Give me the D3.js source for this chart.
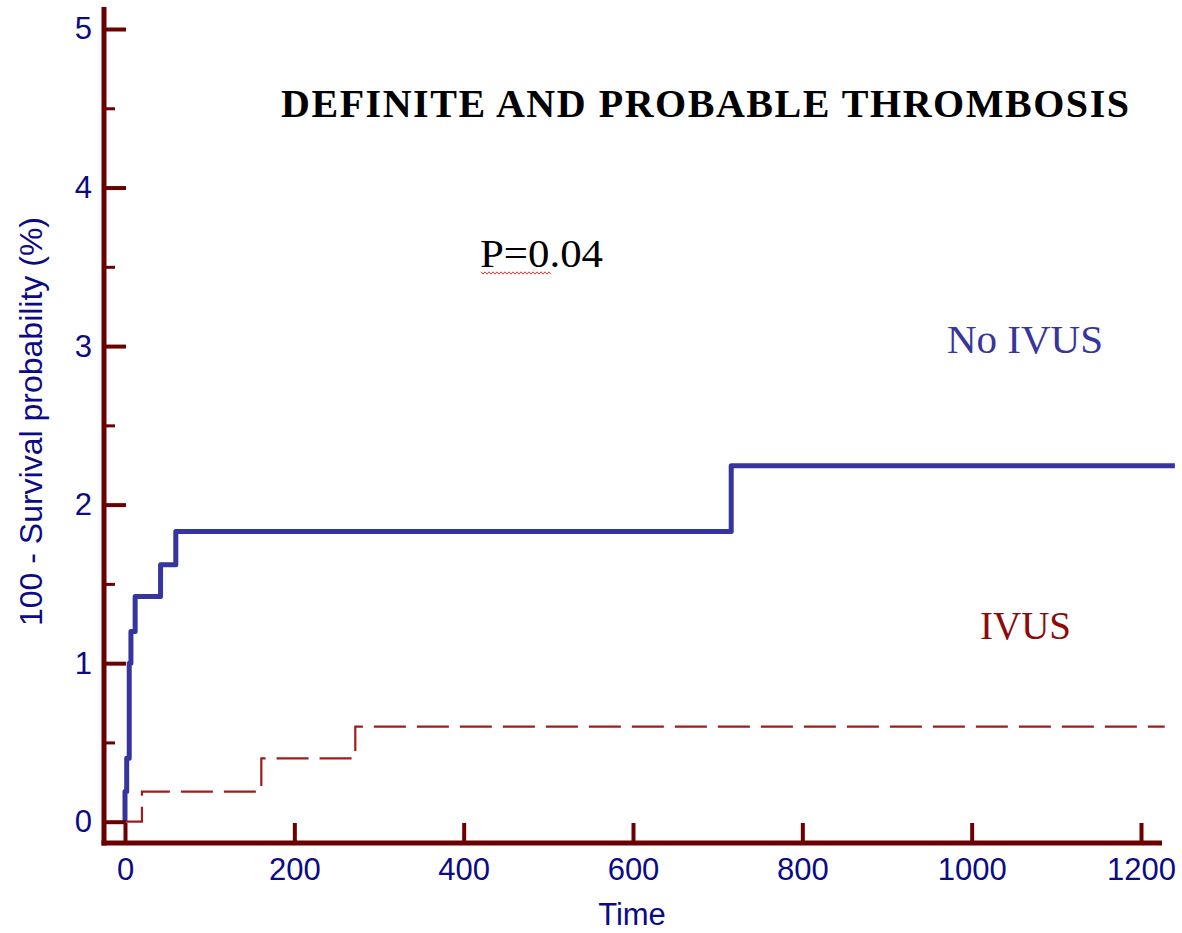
<!DOCTYPE html>
<html>
<head>
<meta charset="utf-8">
<script src="https://cdn.jsdelivr.net/npm/d3@7/dist/d3.min.js"></script>
<style>
  html, body { margin: 0; padding: 0; background: #ffffff; }
  svg { display: block; }
</style>
</head>
<body>
<script>
// Kaplan-Meier style cumulative event curves (100 - survival probability, %)
const noIvusTimes  = [0, 0, 2, 5, 7, 12, 42, 60, 716, 1240];
const noIvusValues = [0, 0.19, 0.40, 1.0, 1.20, 1.42, 1.62, 1.83, 2.245, 2.245];

const ivusTimes  = [0, 20, 161, 272, 1228];
const ivusValues = [0, 0.19, 0.40, 0.60, 0.60];

const xTicks = [0, 200, 400, 600, 800, 1000, 1200];
const yTicks = [0, 1, 2, 3, 4, 5];
const yMinorTicks = [0.5, 1.5, 2.5, 3.5, 4.5];

const titleText = "DEFINITE AND PROBABLE THROMBOSIS";
const pValueText = "P=0.04";
const seriesLabels = ["No IVUS", "IVUS"];
const xTitle = "Time";
const yTitle = "100 - Survival probability (%)";

const W = 1182, H = 933;
const axisColor = "#6b0000";
const labelColor = "#0b0b85";
const blueColor = "#35359d";
const redColor = "#a01c1c";

const svg = d3.select("body").append("svg").attr("width", W).attr("height", H);

const x = d3.scaleLinear().domain([0, 1200]).range([125, 1141]);
const y = d3.scaleLinear().domain([0, 5]).range([821.7, 29]);

// axis extents (slightly beyond the plotted domain on each side)
const xMin = x.invert(104), xMax = x.invert(1162);
const yMin = y.invert(843), yMax = y.invert(7);

// curves
const toPoints = (ts, vs) => ts.map((t, i) => [t, vs[i]]);
const stepLine = d3.line().x(d => x(d[0])).y(d => y(d[1])).curve(d3.curveStepAfter);

svg.append("path")
  .attr("d", stepLine(toPoints(ivusTimes, ivusValues)))
  .attr("fill", "none")
  .attr("stroke", redColor)
  .attr("stroke-width", 2.2)
  .attr("stroke-dasharray", "32,11");

svg.append("path")
  .attr("d", stepLine(toPoints(noIvusTimes, noIvusValues)))
  .attr("fill", "none")
  .attr("stroke", blueColor)
  .attr("stroke-width", 5)
  .attr("stroke-linejoin", "round");

// y axis: major ticks pointing inward with labels, plus minor ticks
const yAxisG = svg.append("g").attr("transform", `translate(${x(xMin)},0)`);
yAxisG.call(d3.axisLeft(y).tickValues(yTicks).tickSize(-22).tickPadding(12).tickFormat(d3.format("d")));
yAxisG.select(".domain").remove();
yAxisG.selectAll(".tick line").attr("stroke", axisColor).attr("stroke-width", 4);
yAxisG.selectAll(".tick text")
  .attr("fill", labelColor)
  .style("font-family", "'Liberation Sans', Arial, sans-serif")
  .style("font-size", "31px");

const yMinorG = svg.append("g").attr("transform", `translate(${x(xMin)},0)`);
yMinorG.call(d3.axisLeft(y).tickValues(yMinorTicks).tickSize(-11).tickFormat(""));
yMinorG.select(".domain").remove();
yMinorG.selectAll(".tick line").attr("stroke", axisColor).attr("stroke-width", 3);

// x axis: ticks pointing up into the plot
const xAxisG = svg.append("g").attr("transform", `translate(0,${y(yMin)})`);
xAxisG.call(d3.axisBottom(x).tickValues(xTicks).tickSize(-20).tickPadding(15).tickFormat(d3.format("d")));
xAxisG.select(".domain").remove();
xAxisG.selectAll(".tick line").attr("stroke", axisColor).attr("stroke-width", 4);
xAxisG.selectAll(".tick text")
  .attr("fill", labelColor)
  .style("font-family", "'Liberation Sans', Arial, sans-serif")
  .style("font-size", "31px");

// axis lines
svg.append("line")
  .attr("x1", x(xMin)).attr("x2", x(xMin))
  .attr("y1", y(yMax)).attr("y2", y(yMin) + 2.5)
  .attr("stroke", axisColor).attr("stroke-width", 5);
svg.append("line")
  .attr("x1", x(xMin) - 2.5).attr("x2", x(xMax))
  .attr("y1", y(yMin)).attr("y2", y(yMin))
  .attr("stroke", axisColor).attr("stroke-width", 5);

// axis titles
svg.append("text")
  .attr("x", 632).attr("y", 925)
  .attr("text-anchor", "middle")
  .attr("fill", labelColor)
  .style("font-family", "'Liberation Sans', Arial, sans-serif")
  .style("font-size", "31px")
  .text(xTitle);

svg.append("text")
  .attr("transform", "translate(42,421.5) rotate(-90)")
  .attr("text-anchor", "middle")
  .attr("fill", labelColor)
  .style("font-family", "'Liberation Sans', Arial, sans-serif")
  .style("font-size", "32px")
  .text(yTitle);

// title
svg.append("text")
  .attr("x", 281).attr("y", 117)
  .attr("textLength", 848)
  .attr("lengthAdjust", "spacing")
  .attr("fill", "#000")
  .style("font-family", "'Liberation Serif', 'Times New Roman', serif")
  .style("font-weight", "bold")
  .style("font-size", "40px")
  .text(titleText);

// p-value annotation with a wavy underline
svg.append("text")
  .attr("x", 480).attr("y", 267)
  .attr("textLength", 123)
  .attr("lengthAdjust", "spacingAndGlyphs")
  .attr("fill", "#000")
  .style("font-family", "'Liberation Serif', 'Times New Roman', serif")
  .style("font-size", "41px")
  .text(pValueText);

const wave = [];
for (let px = 481; px <= 551; px += 2) {
  wave.push([px, 273 + ((px - 481) / 2 % 2 === 0 ? -1.2 : 1.2)]);
}
svg.append("path")
  .attr("d", d3.line()(wave))
  .attr("fill", "none")
  .attr("stroke", "#e23a3a")
  .attr("stroke-width", 1);

// series labels
svg.append("text")
  .attr("x", 947).attr("y", 353)
  .attr("fill", blueColor)
  .style("font-family", "'Liberation Serif', 'Times New Roman', serif")
  .style("font-size", "41px")
  .text(seriesLabels[0]);

svg.append("text")
  .attr("x", 980).attr("y", 639)
  .attr("fill", "#8b0a0a")
  .style("font-family", "'Liberation Serif', 'Times New Roman', serif")
  .style("font-size", "39px")
  .text(seriesLabels[1]);
</script>
</body>
</html>
